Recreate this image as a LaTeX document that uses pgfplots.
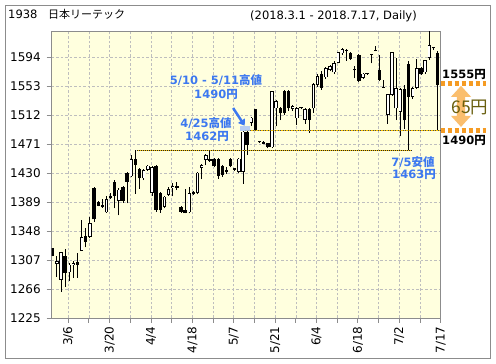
\documentclass[border=0pt]{standalone}
\usepackage{fontspec}
\setmainfont{DejaVu Sans}
\newfontfamily\jp{Noto Sans CJK JP}
\usepackage{pgfplots}
\pgfplotsset{compat=1.18}
\usepackage{pgfplotstable}
\usetikzlibrary{arrows.meta}

\definecolor{annblue}{RGB}{60,120,240}
\definecolor{gridgray}{RGB}{190,190,190}
\definecolor{axgray}{RGB}{140,140,140}
\definecolor{bgyellow}{RGB}{255,255,222}
\definecolor{lvlyellow}{RGB}{255,200,0}
\definecolor{orangeann}{RGB}{245,155,35}
\definecolor{arroworange}{RGB}{250,190,110}
\definecolor{olivetext}{RGB}{105,95,15}

% k = trading-day index from 2018-03-01
\pgfplotstableread{
k O H L C
0 1323 1324 1312 1313
1 1302 1312 1283 1305
2 1280 1319 1262 1318
3 1312 1322 1269 1289
4 1290 1303 1277 1300
5 1300 1306 1282 1302
6 1303 1317 1282 1301
7 1321 1364 1320 1339
8 1340 1353 1325 1333
9 1340 1368 1338 1359
10 1409 1410 1361 1365
11 1389 1391 1383 1384
12 1385 1393 1381 1382
13 1375 1397 1374 1393
14 1397 1402 1393 1395
15 1417 1420 1380 1398
16 1391 1409 1370 1406
17 1410 1412 1388 1391
18 1430 1432 1387 1418
19 1426 1455 1424 1449
20 1450 1462 1401 1442
21 1435 1437 1408 1423
22 1423 1436 1420 1434
23 1435 1442 1433 1440
24 1402 1440 1398 1438
25 1439 1441 1375 1378
26 1401 1403 1374 1378
27 1383 1398 1380 1396
28 1400 1410 1398 1407
29 1409 1416 1397 1411
30 1411 1418 1406 1410
31 1382 1384 1374 1376
32 1377 1408 1373 1374
33 1375 1410 1373 1401
34 1401 1404 1399 1402
35 1402 1432 1400 1430
36 1438 1443 1421 1441
37 1449 1457 1441 1455
38 1449 1462 1446 1448
39 1449 1452 1438 1440
40 1449 1451 1422 1426
41 1440 1442 1425 1428
42 1434 1439 1429 1432
43 1450 1452 1438 1440
44 1436 1437 1433 1435
45 1432 1452 1430 1450
46 1432 1490 1415 1488
47 1488 1490 1456 1470
48 1501 1510 1497 1508
49 1520 1521 1490 1492
50 1475 1476 1473 1474
51 1474 1475 1471 1472
52 1472 1473 1465 1467.5
53 1467 1546 1465 1545
54 1522 1533 1496 1531
55 1522 1524 1505 1515
56 1546 1548 1512 1515
57 1545 1547 1518 1522
58 1521 1526 1518 1524
59 1508 1523 1498 1521
60 1523 1524 1520 1522
61 1506 1522 1500 1520
62 1520 1522 1487 1506
63 1522 1558 1515 1555
64 1555 1570 1552 1567
65 1570 1575 1548 1551
66 1566 1580 1563 1578
67 1576 1583 1574 1581
68 1573 1588 1570 1585
69 1587 1601 1585 1600
70 1600 1607 1597 1605
71 1604 1605 1589 1603
72 1599 1601 1590 1592
73 1577 1581 1564 1576
74 1597 1598 1559 1561
75 1565 1571 1563 1570
76 1571 1572 1569 1570.5
77 1598 1599 1585 1598.5
78 1603 1610 1602 1603.5
79 1576 1597 1560 1562
80 1551.5 1562 1550 1551
81 1513 1542 1500 1541
82 1541 1601 1539 1600
83 1522 1593 1505 1550
84 1517 1550 1482 1548
85 1548 1555 1493 1505
86 1584 1588 1463 1538
87 1538 1552 1535 1550
88 1551 1591 1549 1578
89 1578 1580 1569 1571
90 1573 1590 1570 1589
91 1593 1632 1590 1610
92 1608 1609 1604 1607
93 1600 1602 1490 1555
}\ohlc

\pgfplotsset{
  candlepart/.style 2 args={draw=none, no markers, forget plot,
    error bars/.cd, y dir=plus, y explicit, error mark=none,
    error bar style={draw=#1, line width=#2}},
}

\begin{document}
\begin{tikzpicture}[x=1pt,y=1pt]
\fill[white] (0,0) rectangle (496,364);
\draw[axgray, line width=1pt] (5.7,5.5) rectangle (490.7,358.3);
\node[anchor=base west, font=\fontsize{11.5}{13}\selectfont, inner sep=0] at (8,345) {1938};
\node[anchor=base west, font=\fontsize{11}{13}\selectfont\jp, inner sep=0] at (48,345) {日本リーテック};
\node[anchor=base west, font=\fontsize{11.5}{13}\selectfont, inner sep=0] at (250,344.5) {(2018.3.1 - 2018.7.17, Daily)};

\begin{axis}[
  at={(51.7pt,46pt)}, anchor=south west,
  scale only axis, width=389pt, height=286.3pt,
  xmin=-0.24, xmax=93.76, ymin=1225, ymax=1630,
  axis background/.style={fill=bgyellow},
  axis line style={axgray, line width=0.9pt},
  tick style={axgray, line width=0.9pt},
  tick align=outside, tick pos=left,
  major tick length=5pt, minor tick length=5pt,
  ytick={1225,1266,1307,1348,1389,1430,1471,1512,1553,1594},
  xtick={3.76,13.76,23.76,33.76,43.76,53.76,63.76,73.76,83.76,93.76},
  xticklabels={3/6,3/20,4/4,4/18,5/7,5/21,6/4,6/18,7/2,7/17},
  minor xtick={8.76,18.76,28.76,38.76,48.76,58.76,68.76,78.76,88.76},
  grid=both,
  major grid style={gridgray, line width=0.7pt, dash pattern=on 2.5pt off 2pt},
  minor grid style={gridgray, line width=0.7pt, dash pattern=on 2.5pt off 2pt},
  xticklabel style={rotate=90, anchor=east, font=\fontsize{12}{14}\selectfont},
  yticklabel style={font=\fontsize{12}{14}\selectfont, xshift=-2.5pt},
  /pgf/number format/assume math mode=true,
  /pgf/number format/1000 sep={},
  clip mode=individual,
]
% wicks
\addplot[candlepart={black}{0.9pt}]
  table[x=k, y=L, y error plus expr={\thisrow{H}-\thisrow{L}}] {\ohlc};
% falling bodies (black)
\addplot[candlepart={black}{3.4pt}]
  table[x=k, y expr={\thisrow{C}<\thisrow{O} ? \thisrow{C}-0.5 : 0},
        y error plus expr={\thisrow{C}<\thisrow{O} ? \thisrow{O}-\thisrow{C}+1 : 0}] {\ohlc};
% rising bodies: outline
\addplot[candlepart={black}{3.4pt}]
  table[x=k, y expr={\thisrow{C}<\thisrow{O} ? 0 : \thisrow{O}-0.6},
        y error plus expr={\thisrow{C}<\thisrow{O} ? 0 : \thisrow{C}-\thisrow{O}+1.2}] {\ohlc};
% rising bodies: hollow inside
\addplot[candlepart={white}{1.8pt}]
  table[x=k, y expr={\thisrow{C}-\thisrow{O}>1.2 ? \thisrow{O}+0.55 : 0},
        y error plus expr={\thisrow{C}-\thisrow{O}>1.2 ? \thisrow{C}-\thisrow{O}-1.1 : 0}] {\ohlc};

% level lines
\draw[lvlyellow, line width=1.1pt] (axis cs:20.3,1462) -- (axis cs:86.8,1462);
\draw[black!85, line width=1.1pt, dash pattern=on 1pt off 1pt] (axis cs:20.3,1462) -- (axis cs:86.8,1462);
\draw[lvlyellow, line width=1.6pt] (axis cs:46.5,1490) -- (axis cs:93.76,1490);
\draw[black!70, line width=0.8pt, dash pattern=on 1pt off 1.5pt] (axis cs:46.5,1490) -- (axis cs:93.76,1490);

% highlight and blue arrow
\fill[annblue!45, opacity=0.8] (axis cs:45.3,1489) rectangle (axis cs:47.8,1496);
\draw[annblue, line width=2.5pt, -{Triangle[length=6pt,width=8pt]}] (axis cs:43.6,1522) -- (axis cs:46.4,1497);

% right side range marker
\draw[orangeann, line width=5pt, dash pattern=on 4pt off 3pt] (axis cs:93.76,1556) -- (axis cs:104.7,1556);
\draw[orangeann, line width=5pt, dash pattern=on 4pt off 3pt] (axis cs:93.76,1490) -- (axis cs:104.7,1490);
\fill[arroworange] (axis cs:98.67,1553.4) -- (axis cs:101.09,1537.8) -- (axis cs:99.64,1537.8) -- (axis cs:99.64,1510.9) -- (axis cs:101.09,1510.9) -- (axis cs:98.67,1495.3) -- (axis cs:96.25,1510.9) -- (axis cs:97.70,1510.9) -- (axis cs:97.70,1537.8) -- (axis cs:96.25,1537.8) -- cycle;
\end{axis}

% annotations
\begin{scope}[every node/.style={inner sep=0, font=\fontsize{11.5}{13}\selectfont\bfseries}]
\node[annblue] at (216,284) {5/10 - 5/11{\jp\bfseries 高値}};
\node[annblue] at (216,269.7) {1490{\jp\bfseries 円}};
\node[annblue] at (206,240.7) {4/25{\jp\bfseries 高値}};
\node[annblue] at (207,227.3) {1462{\jp\bfseries 円}};
\node[annblue] at (413,201.7) {7/5{\jp\bfseries 安値}};
\node[annblue] at (414,190) {1463{\jp\bfseries 円}};
\node[black] at (464,290) {1555{\jp\bfseries 円}};
\node[black] at (464,223.3) {1490{\jp\bfseries 円}};
\end{scope}
\node[olivetext, inner sep=0, font=\fontsize{17.5}{20}\selectfont\jp] at (470,256.7) {65円};

\pgfresetboundingbox
\useasboundingbox (0,0) rectangle (496,364);
\end{tikzpicture}
\end{document}
